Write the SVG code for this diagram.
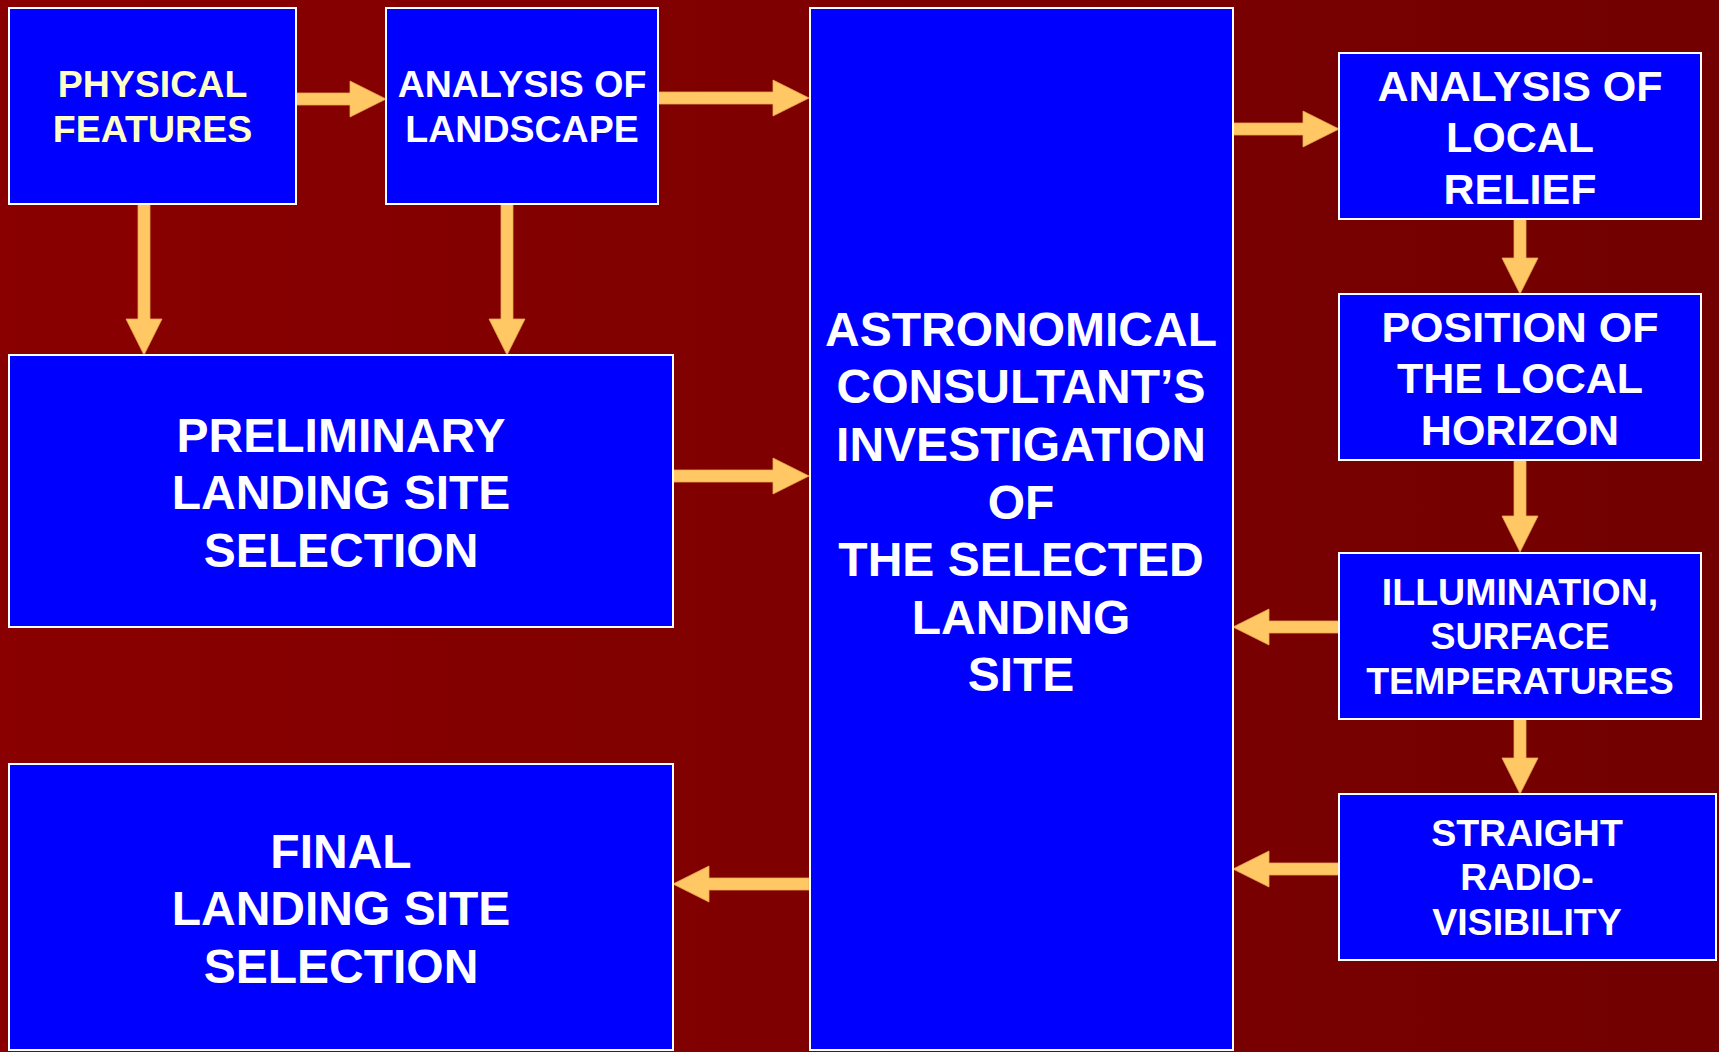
<svg xmlns="http://www.w3.org/2000/svg" width="1719" height="1052" viewBox="0 0 1719 1052">
<defs>
<linearGradient id="bg" x1="0" y1="0" x2="1" y2="0">
<stop offset="0" stop-color="#8A0000"/>
<stop offset="1" stop-color="#720000"/>
</linearGradient>
<style>
.box{fill:#0000FF;stroke:#FFFFFF;stroke-width:2}
.arr{fill:#FFC864;stroke:#E8A850;stroke-width:0.8}
text{font-family:"Liberation Sans",Arial,sans-serif;font-weight:bold;fill:#FFFFFF;text-anchor:middle}
.t37{font-size:37.5px}
.t42{font-size:43px}
.t47{font-size:48px}
.yel{fill:#FFFFC8}
</style>
</defs>
<rect x="0" y="0" width="1719" height="1052" fill="url(#bg)"/>

<g id="connectors">
<path class="arr" d="M296,93 H350 V81 L386,99 L350,117 V105 H296 Z"/>
<path class="arr" d="M658,92 H773 V80 L809,98 L773,116 V104 H658 Z"/>
<path class="arr" d="M138,204 V319 H126 L144,355 L162,319 H150 V204 Z"/>
<path class="arr" d="M501,204 V319 H489 L507,355 L525,319 H513 V204 Z"/>
<path class="arr" d="M673,470 H773 V458 L809,476 L773,494 V482 H673 Z"/>
<path class="arr" d="M1233,123 H1303 V111 L1339,129 L1303,147 V135 H1233 Z"/>
<path class="arr" d="M1514,219 V258 H1502 L1520,294 L1538,258 H1526 V219 Z"/>
<path class="arr" d="M1514,460 V516 H1502 L1520,552 L1538,516 H1526 V460 Z"/>
<path class="arr" d="M1339,621 H1269 V609 L1233,627 L1269,645 V633 H1339 Z"/>
<path class="arr" d="M1514,719 V758 H1502 L1520,794 L1538,758 H1526 V719 Z"/>
<path class="arr" d="M1339,863 H1269 V851 L1233,869 L1269,887 V875 H1339 Z"/>
<path class="arr" d="M809,878 H709 V866 L673,884 L709,902 V890 H809 Z"/>
</g>

<g id="physical">
<rect class="box" x="9" y="8" width="287" height="196"/>
<text class="t37 yel" x="152.5" y="97">PHYSICAL</text>
<text class="t37 yel" x="152.5" y="142">FEATURES</text>
</g>

<g id="landscape">
<rect class="box" x="386" y="8" width="272" height="196"/>
<text class="t37" x="522" y="97">ANALYSIS OF</text>
<text class="t37" x="522" y="142">LANDSCAPE</text>
</g>

<g id="consultant">
<rect class="box" x="810" y="8" width="423" height="1042"/>
<text class="t47" x="1021" y="346">ASTRONOMICAL</text>
<text class="t47" x="1021" y="403">CONSULTANT’S</text>
<text class="t47" x="1021" y="461">INVESTIGATION</text>
<text class="t47" x="1021" y="519">OF</text>
<text class="t47" x="1021" y="576">THE SELECTED</text>
<text class="t47" x="1021" y="634">LANDING</text>
<text class="t47" x="1021" y="691">SITE</text>
</g>

<g id="preliminary">
<rect class="box" x="9" y="355" width="664" height="272"/>
<text class="t47" x="341" y="452">PRELIMINARY</text>
<text class="t47" x="341" y="509">LANDING SITE</text>
<text class="t47" x="341" y="567">SELECTION</text>
</g>

<g id="final">
<rect class="box" x="9" y="764" width="664" height="286"/>
<text class="t47" x="341" y="868">FINAL</text>
<text class="t47" x="341" y="925">LANDING SITE</text>
<text class="t47" x="341" y="983">SELECTION</text>
</g>

<g id="relief">
<rect class="box" x="1339" y="53" width="362" height="166"/>
<text class="t42" x="1520" y="101">ANALYSIS OF</text>
<text class="t42" x="1520" y="152">LOCAL</text>
<text class="t42" x="1520" y="204">RELIEF</text>
</g>

<g id="horizon">
<rect class="box" x="1339" y="294" width="362" height="166"/>
<text class="t42" x="1520" y="342">POSITION OF</text>
<text class="t42" x="1520" y="393">THE LOCAL</text>
<text class="t42" x="1520" y="445">HORIZON</text>
</g>

<g id="illumination">
<rect class="box" x="1339" y="553" width="362" height="166"/>
<text class="t37" x="1520" y="605">ILLUMINATION,</text>
<text class="t37" x="1520" y="649">SURFACE</text>
<text class="t37" x="1520" y="694">TEMPERATURES</text>
</g>

<g id="radio">
<rect class="box" x="1339" y="794" width="377" height="166"/>
<text class="t37" x="1527" y="846">STRAIGHT</text>
<text class="t37" x="1527" y="890">RADIO-</text>
<text class="t37" x="1527" y="935">VISIBILITY</text>
</g>
</svg>
